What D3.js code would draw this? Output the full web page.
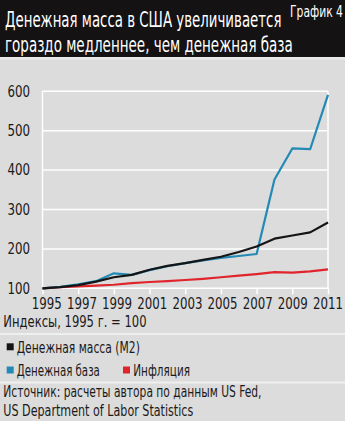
<!DOCTYPE html>
<html><head><meta charset="utf-8">
<script src="https://cdn.jsdelivr.net/npm/d3@7"></script>
<style>
html,body{margin:0;padding:0;background:#dcdcdc;}
svg{display:block;}
text{font-family:'Liberation Sans Narrow','DejaVu Sans Condensed','Liberation Sans',sans-serif;}
</style></head>
<body>
<svg id="c" width="345" height="421"></svg>
<script>
const years = [1995,1996,1997,1998,1999,2000,2001,2002,2003,2004,2005,2006,2007,2008,2009,2010,2011];
const moneySupply = [100,103,108,117,128,134,147,157,164,172,180,192,206,226,234,242,267];
const moneyBase   = [100,104,110,118,138,134,146,156,164,171,177,182,187,376,455,453,591];
const inflation   = [100,103,105,107,109,113,116,118,121,124,128,132,136,141,140,143,148];
const yTicks = [100,200,300,400,500,600];
const xTicks = [1995,1997,1999,2001,2003,2005,2007,2009,2011];
const seriesNames = ["Денежная масса (М2)","Денежная база","Инфляция"];
const colors = ["#151515","#2389b5","#e0242c"];

// horizontally squeeze a text node to a given width (keeps its anchor point)
function squeeze(node, w){
  const L = node.getComputedTextLength();
  const s = Math.min(1, w / L);
  const x = +node.getAttribute("x") || 0;
  const y = +node.getAttribute("y") || 0;
  node.setAttribute("x", 0); node.setAttribute("y", 0);
  node.setAttribute("transform", `translate(${x},${y}) scale(${s},1)`);
}
function txt(x0, y0, size, fill, w, s){
  const t = svg.append("text").attr("x",x0).attr("y",y0).attr("font-size",size).attr("fill",fill).text(s);
  squeeze(t.node(), w);
  return t;
}

const svg = d3.select("#c");
svg.append("rect").attr("width",345).attr("height",421).attr("fill","#dcdcdc");
// title band
svg.append("rect").attr("x",0).attr("y",0).attr("width",345).attr("height",57).attr("fill","#141213");
svg.append("rect").attr("x",0).attr("y",57).attr("width",345).attr("height",2.5).attr("fill","#e9e9e9");
txt(5, 27.3, 21, "#fff", 276.7, "Денежная масса в США увеличивается");
txt(5, 51.7, 21, "#fff", 288, "гораздо медленнее, чем денежная база");
txt(290, 16.7, 15, "#fff", 53, "График 4");

const x = d3.scaleLinear().domain([1995,2011]).range([42.5,328]);
const xl = d3.scaleLinear().domain([1995,2011]).range([46.3,327.5]);
const y = d3.scaleLinear().domain([100,600]).range([288.3,91.3]);

// gridlines
const g = svg.append("g");
g.selectAll("line.grid").data(yTicks).join("line")
  .attr("x1",x(1995)).attr("x2",x(2011)).attr("y1",d=>y(d)).attr("y2",d=>y(d))
  .attr("stroke","#fff").attr("stroke-width",1.5);
[1995,2011].forEach(v=>{
  g.append("line").attr("x1",x(v)).attr("x2",x(v)).attr("y1",y(600)).attr("y2",y(100))
   .attr("stroke","#fff").attr("stroke-width",1.5);
});
// x tick marks
const xAxis = svg.append("g").attr("transform",`translate(0,${y(100)})`)
  .call(d3.axisBottom(x).tickValues(xTicks).tickSize(6).tickFormat(""));
xAxis.select(".domain").remove();
xAxis.selectAll("line").attr("stroke","#fff").attr("stroke-width",1.5);
// x labels
const xLab = svg.append("g").attr("transform",`translate(0,${y(100)})`)
  .call(d3.axisBottom(xl).tickValues(xTicks).tickSize(0).tickPadding(8).tickFormat(d3.format("d")));
xLab.select(".domain").remove();
xLab.selectAll("text").attr("font-size",15).attr("fill","#1a1a1a")
  .attr("font-family","'Liberation Sans Narrow','DejaVu Sans Condensed',sans-serif")
  .attr("dy",null).attr("y",20.4).each(function(){ squeeze(this, 30); });
// y labels
const yAx = svg.append("g").attr("transform","translate(30,0)")
  .call(d3.axisLeft(y).tickValues(yTicks).tickSize(0).tickPadding(0).tickFormat(d3.format("d")));
yAx.select(".domain").remove();
yAx.selectAll("text").attr("font-size",15).attr("fill","#1a1a1a")
  .attr("font-family","'Liberation Sans Narrow','DejaVu Sans Condensed',sans-serif")
  .each(function(){ squeeze(this, 22.6); });

// lines
const line = d3.line().x((d,i)=>x(years[i])).y(d=>y(d));
const data = [moneySupply, moneyBase, inflation];
[2,1,0].forEach(k=>{
  svg.append("path").datum(data[k]).attr("d",line).attr("fill","none")
    .attr("stroke",colors[k]).attr("stroke-width",2.2).attr("stroke-linejoin","round");
});

// footer text
const tc = "#1a1a1a";
txt(3.3, 327, 15, tc, 143.4, "Индексы, 1995 г. = 100");
svg.append("rect").attr("x",0).attr("y",333).attr("width",345).attr("height",2).attr("fill","#efefef");
// legend
const leg = [
  {i:0, sx:6.7, sy:343.3, tx:16.7, ty:352.7, w:123.3},
  {i:1, sx:6.7, sy:366.5, tx:16.7, ty:375.5, w:83.3},
  {i:2, sx:123, sy:366.5, tx:133.3, ty:375.5, w:56.7}
];
leg.forEach(l=>{
  svg.append("rect").attr("x",l.sx).attr("y",l.sy).attr("width",7).attr("height",7).attr("fill",colors[l.i]);
  txt(l.tx, l.ty, 15, tc, l.w, seriesNames[l.i]);
});
svg.append("rect").attr("x",0).attr("y",381.5).attr("width",345).attr("height",2).attr("fill","#efefef");
txt(3.3, 396.7, 15, tc, 258.4, "Источник: расчеты автора по данным US Fed,");
txt(3.3, 416, 15, tc, 190, "US Department of Labor Statistics");
</script>
</body></html>
